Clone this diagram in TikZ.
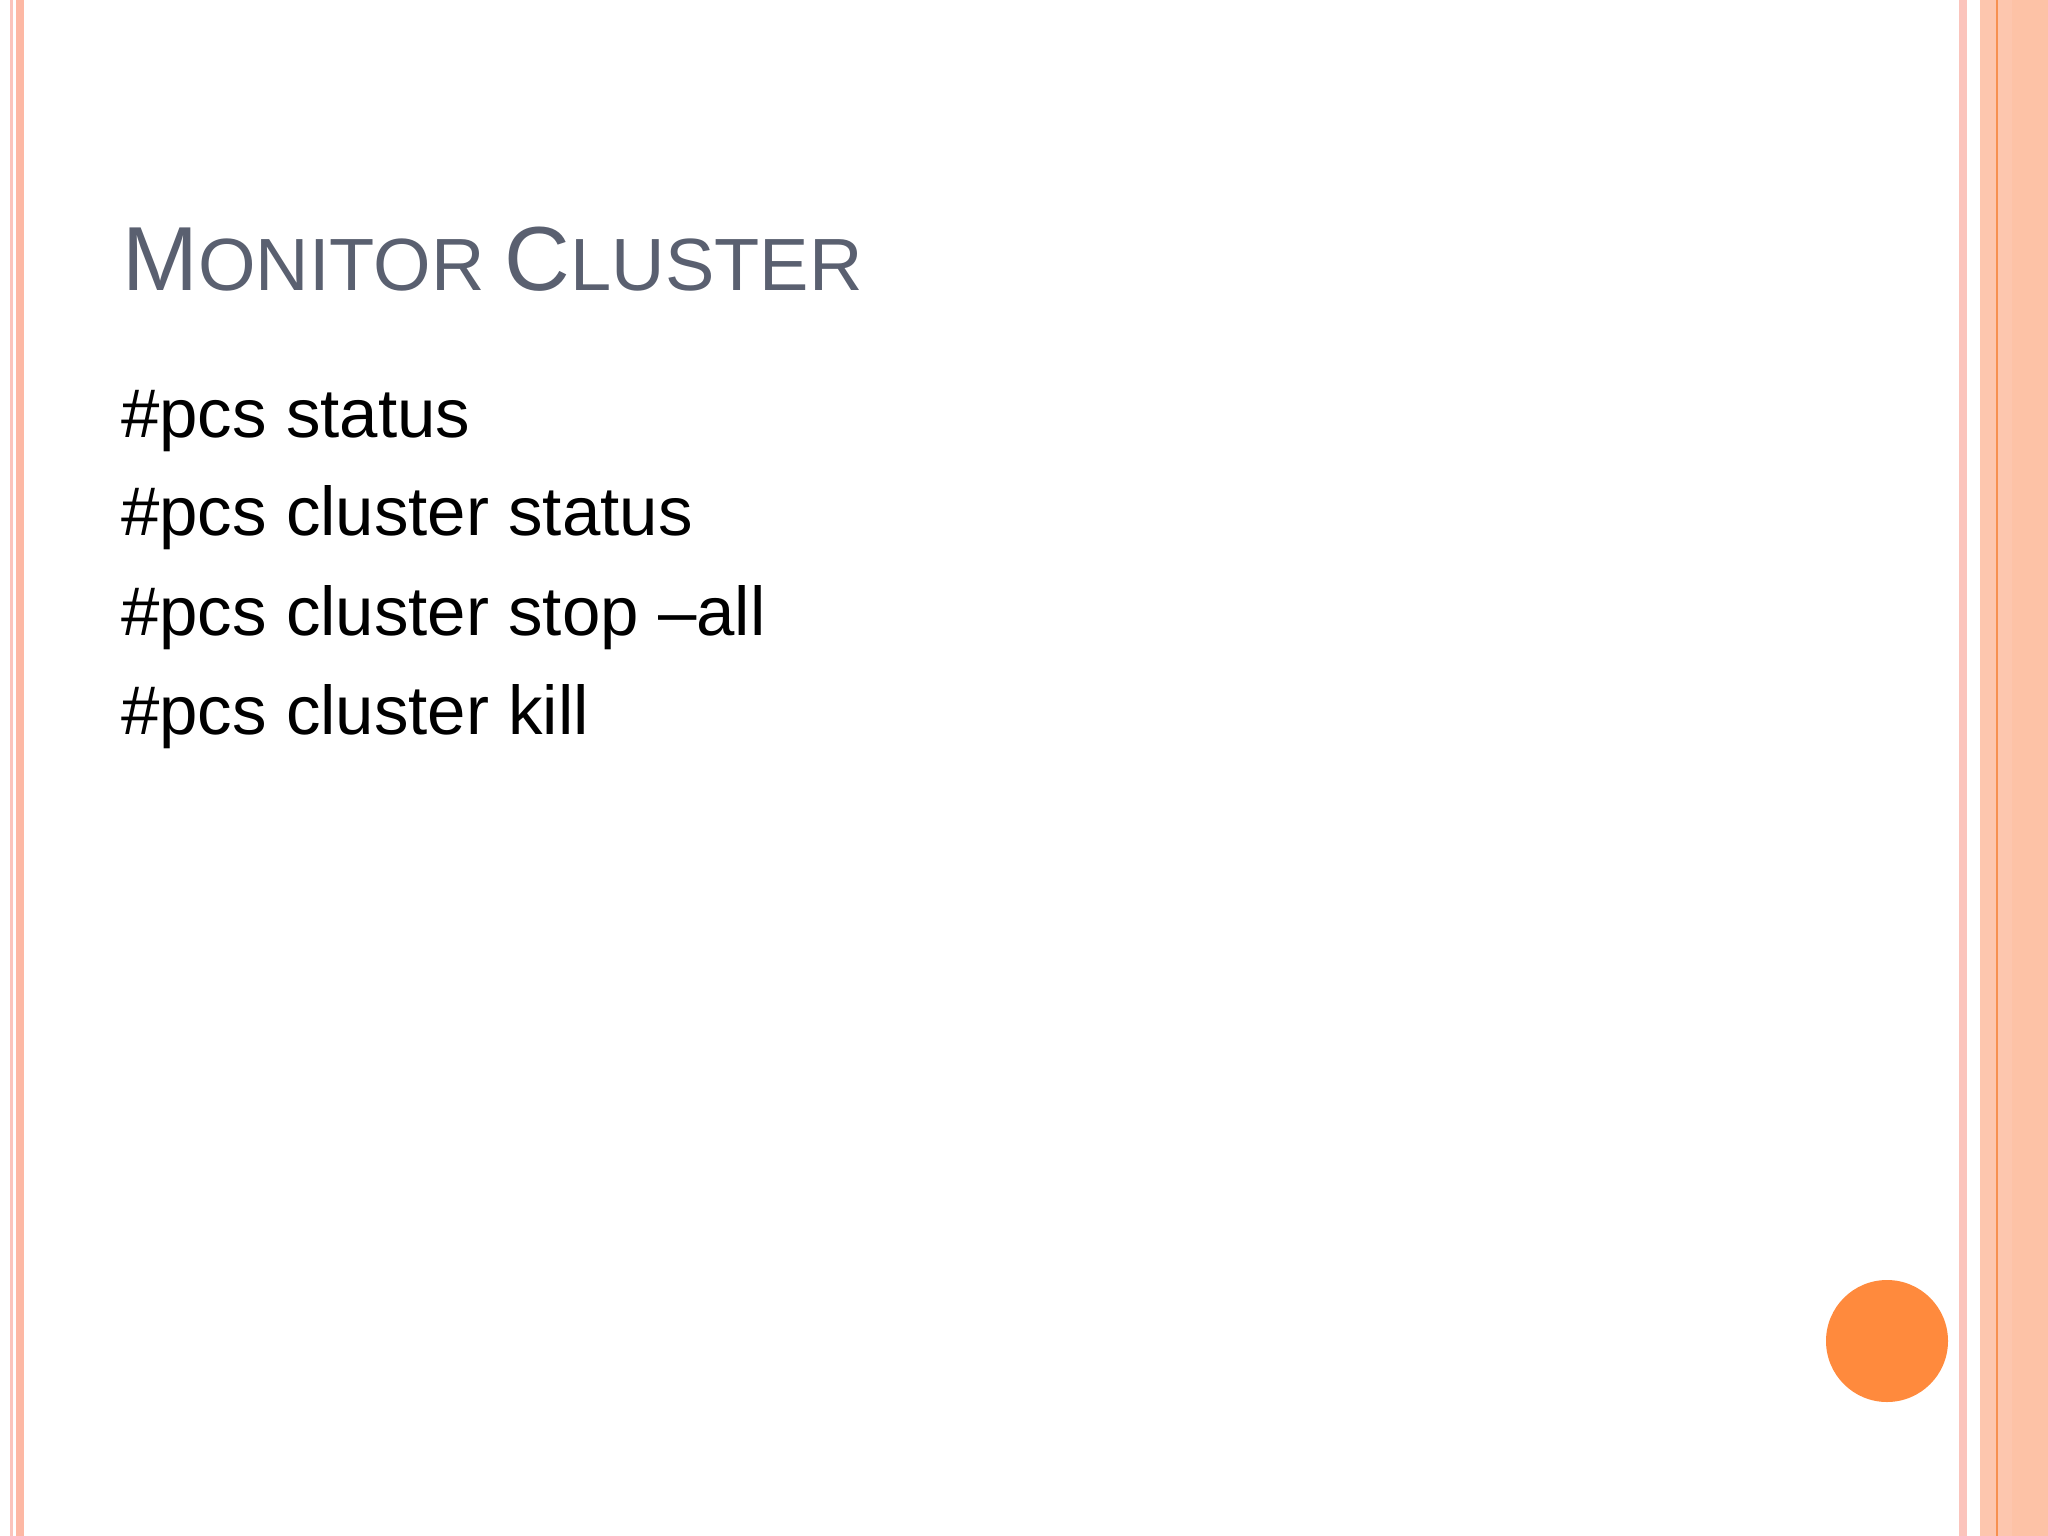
\documentclass[tikz,border=0pt]{standalone}
\usepackage{fontspec}
\setmainfont{Liberation Sans}
\definecolor{titlec}{HTML}{5A6070}
\definecolor{pinkA}{HTML}{FBC4BC}
\definecolor{salmon}{HTML}{FDB8A4}
\definecolor{peach}{HTML}{FDC6AE}
\definecolor{peach2}{HTML}{FDC2A6}
\definecolor{orline}{HTML}{F79050}
\definecolor{dot}{HTML}{FF8A3D}
\begin{document}
\begin{tikzpicture}[x=1pt,y=-1pt,
  body/.style={anchor=base west,inner sep=0pt,font=\fontsize{69}{69}\selectfont},
  stripe/.style={draw=none}]
\useasboundingbox (0,0) rectangle (2048,1536);
\fill[white!96!green!40!white] (0,0) rectangle (2048,1536);
\fill[white] (0,0) rectangle (2048,1536);
% left stripes
\fill[pinkA] (10,0) rectangle (13,1536);
\fill[salmon] (16,0) rectangle (24,1536);
% right stripes
\fill[pinkA] (1959,0) rectangle (1967,1536);
\fill[peach] (1980,0) rectangle (2048,1536);
\fill[orline] (1995.5,0) rectangle (1998,1536);
\fill[peach2] (2012,0) rectangle (2048,1536);
% title
\node[anchor=base west,inner sep=0pt,text=titlec] (title) at (122,290)
 {\fontsize{91}{91}\selectfont M\fontsize{74}{74}\selectfont ONITOR \fontsize{91}{91}\selectfont C\fontsize{74}{74}\selectfont LUSTER};
\node[body] (l1) at (121,437) {\#pcs status};
\node[body] (l2) at (121,535) {\#pcs cluster status};
\node[body] (l3) at (121,635) {\#pcs cluster stop –all};
\node[body] (l4) at (121,734) {\#pcs cluster kill};
\fill[dot] (1887,1341) circle (61);
\end{tikzpicture}
\end{document}
